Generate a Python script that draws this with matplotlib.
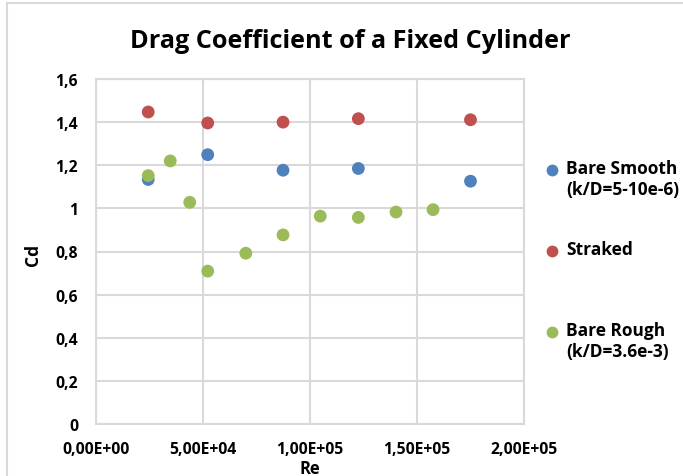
import matplotlib
matplotlib.use("Agg")
import matplotlib.pyplot as plt
from matplotlib.lines import Line2D
from matplotlib.patches import Rectangle

plt.rcParams['font.family'] = ['Open Sans', 'DejaVu Sans']

# Data
re_smooth = [24400, 52200, 87400, 122600, 175000]
cd_smooth = [1.134, 1.249, 1.177, 1.185, 1.126]
re_straked = [24400, 52200, 87400, 122600, 175000]
cd_straked = [1.447, 1.396, 1.400, 1.416, 1.411]
re_rough = [24400, 34700, 43800, 52200, 70000, 87400, 104800, 122600, 140200, 157500]
cd_rough = [1.152, 1.220, 1.028, 0.709, 0.792, 0.877, 0.964, 0.958, 0.983, 0.994]

labels = ["Bare Smooth\n(k/D=5-10e-6)", "Straked", "Bare Rough\n(k/D=3.6e-3)"]
colors = ["#4F81BD", "#C0504D", "#9BBB59"]

xticks = [0, 50000, 100000, 150000, 200000]
xtick_labels = ["0,00E+00", "5,00E+04", "1,00E+05", "1,50E+05", "2,00E+05"]
yticks = [0, 0.2, 0.4, 0.6, 0.8, 1.0, 1.2, 1.4, 1.6]
ytick_labels = ["0", "0,2", "0,4", "0,6", "0,8", "1", "1,2", "1,4", "1,6"]

W, H = 683, 477
fig = plt.figure(figsize=(W / 100, H / 100), dpi=100)
ax = fig.add_axes([96 / W, 1 - 425 / H, (524 - 96) / W, (425 - 80) / H])

grid_c = "#D9D9D9"
series = [(re_smooth, cd_smooth), (re_straked, cd_straked), (re_rough, cd_rough)]
for (x, y), c in zip(series, colors):
    ax.scatter(x, y, s=85, color=c, edgecolors='none', zorder=3)

ax.set_xlim(0, 200000)
ax.set_ylim(0, 1.6)
ax.set_xticks(xticks)
ax.set_xticklabels(xtick_labels)
ax.set_yticks(yticks)
ax.set_yticklabels(ytick_labels)
ax.tick_params(length=0, labelsize=11.3)
for lab in ax.get_xticklabels() + ax.get_yticklabels():
    lab.set_fontweight('bold')
ax.tick_params(axis='x', pad=12)
ax.tick_params(axis='y', pad=13)
ax.grid(True, color=grid_c, linewidth=1.5)
ax.set_axisbelow(True)
for sp in ax.spines.values():
    sp.set_color(grid_c)
    sp.set_linewidth(1.5)

fig.text(310 / W, 1 - 469 / H, "Re", fontsize=12, fontweight='bold',
         ha='center', va='center')
fig.text(33 / W, 1 - 255 / H, "Cd", rotation=90, fontsize=12.5, fontweight='bold',
         ha='center', va='center')

fig.text(350 / W, 1 - 42 / H, "Drag Coefficient of a Fixed Cylinder",
         fontsize=18.2, fontweight='bold', ha='center', va='center')

# Legend (manual)
leg_y = [171, 252, 333]
for lab, c, yy in zip(labels, colors, leg_y):
    fig.add_artist(Line2D([552 / W], [1 - yy / H], marker='o', markersize=8.5,
                          color=c, markeredgecolor='none', linestyle='none'))
    fig.text(566 / W, 1 - (yy - 11) / H, lab, fontsize=12.5, fontweight='bold',
             ha='left', va='top', linespacing=1.25)

# Outer border (chart area edge)
fig.add_artist(Rectangle((7 / W, -0.05), 1.2, 1 - 4 / H + 0.05, transform=fig.transFigure,
                         fill=False, edgecolor=grid_c, linewidth=1.5))

fig.savefig("out.png", dpi=100)
